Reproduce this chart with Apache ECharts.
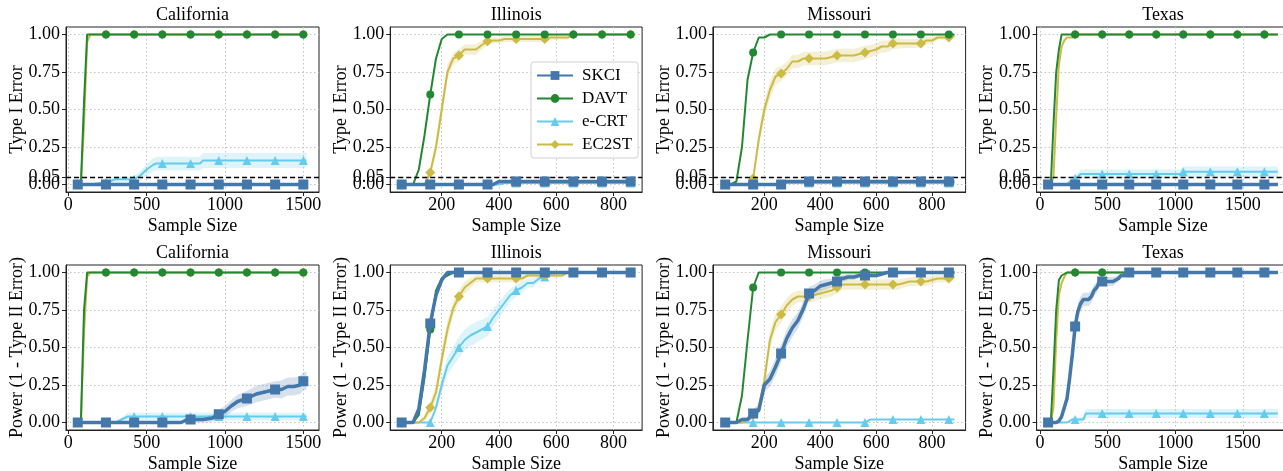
<!DOCTYPE html>
<html>
<head>
<meta charset="utf-8">
<script src="https://cdn.jsdelivr.net/npm/echarts@6/dist/echarts.min.js"></script>
<style>html,body{margin:0;padding:0;background:#fff}#chart{width:1283px;height:471px}</style>
</head>
<body>
<div id="chart"></div>
<script>
// methods and states
var methods = ['SKCI', 'DAVT', 'e-CRT', 'EC2ST'];
var states = ['California', 'Illinois', 'Missouri', 'Texas'];
var alphaLevel = 0.05;

// tick labels
var xTicksWide = [0, 500, 1000, 1500];
var xTicksNarrow = [200, 400, 600, 800];
var yTicksTypeI = [0, 0.05, 0.25, 0.5, 0.75, 1];
var yTicksPower = [0, 0.25, 0.5, 0.75, 1];

// ---- California ----
var caX = [60,80,100,120,140,240,260,300,320,360,380,420,460,500,540,560,600,720,760,780,840,860,920,960,1000,1040,1080,1140,1200,1240,1280,1320,1360,1400,1440,1480,1500,1520];
var caMarks = [60,240,420,600,780,960,1140,1320,1500];
var caT1Skci = [0,0,0,0,0,0,0,0,0,0,0,0,0,0,0,0,0,0,0,0,0,0,0,0,0,0,0,0,0,0,0,0,0,0,0,0,0,0];
var caT1Davt = [0,0,0.55,1,1,1,1,1,1,1,1,1,1,1,1,1,1,1,1,1,1,1,1,1,1,1,1,1,1,1,1,1,1,1,1,1,1,1];
var caT1Crt = [0,0,0,0,0,0.015,0.02,0.035,0.035,0.035,0.035,0.035,0.06,0.1,0.13,0.14,0.14,0.14,0.14,0.14,0.14,0.16,0.16,0.16,0.16,0.16,0.16,0.16,0.16,0.16,0.16,0.16,0.16,0.16,0.16,0.16,0.16,0.16];
var caT1CrtBand = [0,0,0,0,0,0.01,0.015,0.02,0.02,0.02,0.02,0.02,0.03,0.04,0.045,0.045,0.045,0.045,0.045,0.045,0.045,0.05,0.05,0.05,0.05,0.05,0.05,0.05,0.05,0.05,0.05,0.05,0.05,0.05,0.05,0.05,0.05,0.05];
var caT1Ec2 = [0,0,0.4,0.95,1,1,1,1,1,1,1,1,1,1,1,1,1,1,1,1,1,1,1,1,1,1,1,1,1,1,1,1,1,1,1,1,1,1];
var caPSkci = [0,0,0,0,0,0,0,0,0,0,0,0,0,0,0,0,0,0,0.02,0.02,0.02,0.02,0.03,0.055,0.075,0.11,0.14,0.16,0.19,0.2,0.21,0.22,0.22,0.24,0.24,0.25,0.275,0.28];
var caPSkciBand = [0,0,0,0,0,0,0,0,0,0,0,0,0,0,0,0,0,0,0.02,0.02,0.02,0.02,0.025,0.03,0.035,0.04,0.045,0.05,0.055,0.055,0.055,0.055,0.06,0.06,0.06,0.06,0.06,0.06];
var caPDavt = [0,0,0.75,1,1,1,1,1,1,1,1,1,1,1,1,1,1,1,1,1,1,1,1,1,1,1,1,1,1,1,1,1,1,1,1,1,1,1];
var caPCrt = [0,0,0,0,0,0,0,0,0.01,0.03,0.04,0.04,0.04,0.04,0.04,0.04,0.04,0.04,0.04,0.04,0.04,0.04,0.04,0.04,0.04,0.04,0.04,0.04,0.04,0.04,0.04,0.04,0.04,0.04,0.04,0.04,0.04,0.04];
var caPCrtBand = [0,0,0,0,0,0,0,0,0.01,0.02,0.025,0.025,0.025,0.025,0.025,0.025,0.025,0.025,0.025,0.025,0.025,0.025,0.025,0.025,0.025,0.025,0.025,0.025,0.025,0.025,0.025,0.025,0.025,0.025,0.025,0.025,0.025,0.025];
var caPEc2 = [0,0,0.6,0.97,1,1,1,1,1,1,1,1,1,1,1,1,1,1,1,1,1,1,1,1,1,1,1,1,1,1,1,1,1,1,1,1,1,1];

// ---- Illinois ----
var ilX = [60,80,100,120,140,160,180,200,220,240,260,280,300,320,340,360,380,400,420,440,460,480,500,520,540,560,580,600,620,640,660,760,860];
var ilMarks = [60,160,260,360,460,560,660,760,860];
var ilT1Skci = [0,0,0,0,0,0,0,0,0,0,0,0,0,0,0,0,0,0.02,0.02,0.02,0.02,0.02,0.02,0.02,0.02,0.02,0.02,0.02,0.02,0.02,0.02,0.02,0.02];
var ilT1Davt = [0,0,0,0.1,0.33,0.6,0.84,0.97,1,1,1,1,1,1,1,1,1,1,1,1,1,1,1,1,1,1,1,1,1,1,1,1,1];
var ilT1Crt = [0,0,0,0,0,0,0,0,0,0,0,0,0,0,0,0,0,0,0.01,0.01,0.01,0.01,0.01,0.01,0.01,0.01,0.01,0.01,0.01,0.01,0.01,0.01,0.01];
var ilT1Ec2 = [0,0,0,0,0,0.08,0.25,0.5,0.75,0.84,0.86,0.9,0.9,0.9,0.93,0.955,0.96,0.96,0.97,0.97,0.97,0.97,0.97,0.97,0.97,0.97,0.98,0.98,0.98,0.98,1,1,1];
var ilT1Ec2Band = [0,0,0,0,0,0.03,0.05,0.06,0.05,0.04,0.04,0.035,0.035,0.035,0.03,0.025,0.02,0.02,0.02,0.02,0.02,0.02,0.02,0.02,0.02,0.02,0.015,0.015,0.015,0.015,0,0,0];
var ilPSkci = [0,0,0,0.09,0.35,0.66,0.85,0.95,1,1,1,1,1,1,1,1,1,1,1,1,1,1,1,1,1,1,1,1,1,1,1,1,1];
var ilPSkciBand = [0,0,0,0.03,0.05,0.05,0.04,0.03,0,0,0,0,0,0,0,0,0,0,0,0,0,0,0,0,0,0,0,0,0,0,0,0,0];
var ilPDavt = [0,0,0,0.05,0.3,0.62,0.88,0.96,0.98,1,1,1,1,1,1,1,1,1,1,1,1,1,1,1,1,1,1,1,1,1,1,1,1];
var ilPCrt = [0,0,0,0,0,0,0.1,0.25,0.38,0.44,0.5,0.55,0.58,0.6,0.62,0.64,0.7,0.75,0.8,0.85,0.88,0.9,0.93,0.93,0.96,0.97,0.99,1,1,1,1,1,1];
var ilPCrtBand = [0,0,0,0,0,0,0.03,0.05,0.06,0.065,0.07,0.07,0.07,0.07,0.065,0.065,0.06,0.055,0.05,0.045,0.04,0.035,0.03,0.03,0.02,0.02,0.01,0,0,0,0,0,0];
var ilPEc2 = [0,0,0,0,0.03,0.1,0.2,0.42,0.62,0.76,0.84,0.9,0.93,0.96,0.96,0.96,0.96,0.96,0.96,0.96,0.96,0.96,0.98,0.98,0.98,0.98,0.98,0.98,0.98,1,1,1,1];
var ilPEc2Band = [0,0,0,0,0.02,0.04,0.05,0.06,0.06,0.05,0.045,0.04,0.035,0.025,0.025,0.025,0.025,0.025,0.025,0.025,0.025,0.025,0.015,0.015,0.015,0.015,0.015,0.015,0.015,0,0,0,0];

// ---- Missouri ----
var moX = [60,80,100,120,140,160,180,200,220,240,260,280,300,320,340,360,380,400,420,440,460,480,500,520,540,560,580,600,620,640,660,680,700,720,740,760,780,800,820,840,860,880];
var moMarks = [60,160,260,360,460,560,660,760,860];
var moT1Skci = [0,0,0,0,0,0,0,0,0,0,0,0.02,0.02,0.02,0.02,0.02,0.02,0.02,0.02,0.02,0.02,0.02,0.02,0.02,0.02,0.02,0.02,0.02,0.02,0.02,0.02,0.02,0.02,0.02,0.02,0.02,0.02,0.02,0.02,0.02,0.02,0.02];
var moT1Davt = [0,0,0.02,0.25,0.7,0.88,0.98,0.98,1,1,1,1,1,1,1,1,1,1,1,1,1,1,1,1,1,1,1,1,1,1,1,1,1,1,1,1,1,1,1,1,1,1];
var moT1Crt = [0,0,0,0,0,0,0,0,0,0,0,0.01,0.01,0.01,0.01,0.01,0.01,0.01,0.01,0.01,0.01,0.01,0.01,0.01,0.01,0.01,0.01,0.01,0.01,0.01,0.01,0.01,0.01,0.01,0.01,0.01,0.01,0.01,0.01,0.01,0.01,0.01];
var moT1Ec2 = [0,0,0,0,0,0.04,0.3,0.5,0.63,0.72,0.74,0.77,0.82,0.82,0.84,0.84,0.84,0.84,0.84,0.85,0.86,0.86,0.86,0.86,0.87,0.88,0.89,0.9,0.92,0.92,0.94,0.94,0.94,0.94,0.94,0.94,0.96,0.96,0.98,0.98,0.98,0.99];
var moT1Ec2Band = [0,0,0,0,0,0.02,0.05,0.06,0.06,0.055,0.05,0.045,0.045,0.045,0.045,0.045,0.045,0.045,0.045,0.045,0.045,0.045,0.045,0.045,0.045,0.045,0.04,0.04,0.04,0.04,0.035,0.035,0.03,0.03,0.03,0.03,0.025,0.025,0.015,0.015,0.015,0.01];
var moPSkci = [0,0,0,0.02,0.02,0.06,0.08,0.25,0.29,0.37,0.46,0.56,0.63,0.68,0.76,0.86,0.88,0.91,0.92,0.93,0.94,0.96,0.97,0.97,0.98,0.98,0.98,0.98,0.99,1,1,1,1,1,1,1,1,1,1,1,1,1];
var moPSkciBand = [0,0,0,0.015,0.015,0.03,0.03,0.05,0.05,0.06,0.06,0.06,0.06,0.055,0.05,0.045,0.04,0.035,0.035,0.03,0.03,0.025,0.02,0.02,0.015,0.015,0.015,0.015,0.01,0,0,0,0,0,0,0,0,0,0,0,0,0];
var moPDavt = [0,0,0,0.18,0.55,0.9,1,1,1,1,1,1,1,1,1,1,1,1,1,1,1,1,1,1,1,1,1,1,1,1,1,1,1,1,1,1,1,1,1,1,1,1];
var moPCrt = [0,0,0,0,0,0,0,0,0,0,0,0,0,0,0,0,0,0,0,0,0,0,0,0,0,0,0.02,0.02,0.02,0.02,0.02,0.02,0.02,0.02,0.02,0.02,0.02,0.02,0.02,0.02,0.02,0.02];
var moPEc2 = [0,0,0,0,0.02,0.05,0.1,0.28,0.55,0.67,0.72,0.78,0.82,0.84,0.84,0.84,0.85,0.86,0.87,0.88,0.9,0.92,0.92,0.92,0.92,0.92,0.92,0.92,0.92,0.92,0.92,0.92,0.93,0.94,0.94,0.94,0.94,0.95,0.96,0.96,0.96,0.97];
var moPEc2Band = [0,0,0,0,0.02,0.03,0.04,0.05,0.06,0.055,0.055,0.05,0.045,0.04,0.04,0.04,0.04,0.04,0.04,0.04,0.04,0.035,0.035,0.035,0.035,0.035,0.035,0.035,0.035,0.035,0.035,0.035,0.03,0.03,0.03,0.03,0.03,0.03,0.025,0.025,0.025,0.02];

// ---- Texas ----
var txX = [60,80,100,120,140,160,180,200,220,240,260,280,300,320,340,360,380,400,420,440,460,480,500,520,540,560,580,600,620,640,660,860,1040,1060,1260,1460,1660,1760];
var txMarks = [60,260,460,660,860,1060,1260,1460,1660];
var txT1Skci = [0,0,0,0,0,0,0,0,0,0,0,0,0,0,0,0,0,0,0,0,0,0,0,0,0,0,0,0,0,0,0,0,0,0,0,0,0,0];
var txT1Davt = [0,0,0.4,0.75,0.9,1,1,1,1,1,1,1,1,1,1,1,1,1,1,1,1,1,1,1,1,1,1,1,1,1,1,1,1,1,1,1,1,1];
var txT1Crt = [0,0,0,0,0,0,0,0,0.02,0.03,0.04,0.05,0.07,0.07,0.07,0.07,0.07,0.07,0.07,0.07,0.07,0.07,0.07,0.07,0.07,0.07,0.07,0.07,0.07,0.07,0.07,0.07,0.07,0.085,0.085,0.085,0.085,0.085];
var txT1CrtBand = [0,0,0,0,0,0,0,0,0.015,0.02,0.025,0.025,0.03,0.03,0.03,0.03,0.03,0.03,0.03,0.03,0.03,0.03,0.03,0.03,0.03,0.03,0.03,0.03,0.03,0.03,0.03,0.03,0.03,0.035,0.035,0.035,0.035,0.035];
var txT1Ec2 = [0,0,0.05,0.45,0.8,0.92,0.96,0.98,0.98,0.98,1,1,1,1,1,1,1,1,1,1,1,1,1,1,1,1,1,1,1,1,1,1,1,1,1,1,1,1];
var txPSkci = [0,0,0,0,0.01,0.04,0.1,0.16,0.3,0.46,0.64,0.74,0.79,0.82,0.82,0.82,0.84,0.88,0.9,0.94,0.94,0.94,0.94,0.94,0.94,0.95,0.96,0.98,0.98,1,1,1,1,1,1,1,1,1];
var txPSkciBand = [0,0,0,0,0.01,0.02,0.03,0.04,0.05,0.06,0.06,0.055,0.05,0.045,0.045,0.045,0.04,0.04,0.035,0.03,0.03,0.03,0.03,0.03,0.03,0.025,0.02,0.015,0.015,0,0,0,0,0,0,0,0,0];
var txPDavt = [0,0,0.35,0.75,0.95,0.98,0.99,1,1,1,1,1,1,1,1,1,1,1,1,1,1,1,1,1,1,1,1,1,1,1,1,1,1,1,1,1,1,1];
var txPCrt = [0,0,0,0,0,0,0,0,0.01,0.02,0.02,0.02,0.02,0.02,0.06,0.06,0.06,0.06,0.06,0.06,0.06,0.06,0.06,0.06,0.06,0.06,0.06,0.06,0.06,0.06,0.06,0.06,0.06,0.06,0.06,0.06,0.06,0.06];
var txPCrtBand = [0,0,0,0,0,0,0,0,0.01,0.015,0.015,0.015,0.015,0.02,0.03,0.03,0.03,0.03,0.03,0.03,0.03,0.03,0.03,0.03,0.03,0.03,0.03,0.03,0.03,0.03,0.03,0.03,0.03,0.03,0.03,0.03,0.03,0.03];
var txPEc2 = [0,0,0.1,0.55,0.85,0.93,0.97,1,1,1,1,1,1,1,1,1,1,1,1,1,1,1,1,1,1,1,1,1,1,1,1,1,1,1,1,1,1,1];

var panels = [
    {state: 0, row: 0, x: caX, marks: caMarks, ys: [caT1Skci, caT1Davt, caT1Crt, caT1Ec2], bands: [null, null, caT1CrtBand, null]},
    {state: 1, row: 0, x: ilX, marks: ilMarks, ys: [ilT1Skci, ilT1Davt, ilT1Crt, ilT1Ec2], bands: [null, null, null, ilT1Ec2Band]},
    {state: 2, row: 0, x: moX, marks: moMarks, ys: [moT1Skci, moT1Davt, moT1Crt, moT1Ec2], bands: [null, null, null, moT1Ec2Band]},
    {state: 3, row: 0, x: txX, marks: txMarks, ys: [txT1Skci, txT1Davt, txT1Crt, txT1Ec2], bands: [null, null, txT1CrtBand, null]},
    {state: 0, row: 1, x: caX, marks: caMarks, ys: [caPSkci, caPDavt, caPCrt, caPEc2], bands: [caPSkciBand, null, caPCrtBand, null]},
    {state: 1, row: 1, x: ilX, marks: ilMarks, ys: [ilPSkci, ilPDavt, ilPCrt, ilPEc2], bands: [ilPSkciBand, null, ilPCrtBand, ilPEc2Band]},
    {state: 2, row: 1, x: moX, marks: moMarks, ys: [moPSkci, moPDavt, moPCrt, moPEc2], bands: [moPSkciBand, null, null, moPEc2Band]},
    {state: 3, row: 1, x: txX, marks: txMarks, ys: [txPSkci, txPDavt, txPCrt, txPEc2], bands: [txPSkciBand, null, txPCrtBand, null]}
];

// layout (pixels) and look
var cols = [
    {left: 66, width: 253, min: -15, max: 1600, ticks: xTicksWide},
    {left: 390.2, width: 251.9, min: 20, max: 900, ticks: xTicksNarrow},
    {left: 712.9, width: 252.7, min: 16, max: 920, ticks: xTicksNarrow},
    {left: 1036.6, width: 252.8, min: -25, max: 1845, ticks: xTicksWide}
];
var rows = [
    {top: 27, height: 165, name: 'Type I Error', ticks: yTicksTypeI, titleY: 15},
    {top: 265, height: 165, name: 'Power (1 - Type II Error)', ticks: yTicksPower, titleY: 253.5}
];
var look = {
    'SKCI':  {color: '#4477AA', symbol: 'rect', size: 10, width: 3.5, z: 5},
    'DAVT':  {color: '#228833', symbol: 'circle', size: 8, width: 2, z: 4},
    'e-CRT': {color: '#66CCEE', symbol: 'triangle', size: 9, width: 2, z: 2},
    'EC2ST': {color: '#CCBB44', symbol: 'diamond', size: 10, width: 2, z: 3}
};
var serif = '"Liberation Serif", "Times New Roman", serif';

function rgba(hex, a) {
    var n = parseInt(hex.slice(1), 16);
    return 'rgba(' + (n >> 16) + ',' + ((n >> 8) & 255) + ',' + (n & 255) + ',' + a + ')';
}

function bandSeries(gi, xs, ys, hw, color) {
    var pts = xs.map(function (x, i) { return [x, ys[i] - hw[i], ys[i] + hw[i]]; });
    return {
        type: 'custom', xAxisIndex: gi, yAxisIndex: gi, silent: true, z: 1,
        data: pts, encode: {x: 0, y: [1, 2]}, animation: false,
        renderItem: function (params, api) {
            if (params.dataIndex !== 0) return null;
            var up = [], lo = [];
            pts.forEach(function (p) {
                up.push(api.coord([p[0], p[2]]));
                lo.push(api.coord([p[0], p[1]]));
            });
            return {type: 'polygon', shape: {points: up.concat(lo.reverse())}, style: {fill: rgba(color, 0.22)}};
        }
    };
}

function lineSeries(gi, name, xs, ys, marks) {
    var s = look[name];
    return {
        type: 'line', name: name, xAxisIndex: gi, yAxisIndex: gi, z: s.z,
        symbol: s.symbol, symbolSize: s.size, silent: true, animation: false,
        data: xs.map(function (x, i) {
            return {value: [x, ys[i]], symbol: marks.indexOf(x) >= 0 ? s.symbol : 'none'};
        }),
        lineStyle: {color: s.color, width: s.width},
        itemStyle: {color: s.color, borderWidth: 0}
    };
}

function fmt2(v) { return Number(v).toFixed(2); }
var labelFont = {fontFamily: serif, fontSize: 18, color: '#000'};
var gridLine = {show: true, lineStyle: {color: '#bdbdbd', type: [1.5, 2.5], width: 0.9}};
var grids = [], xAxes = [], yAxes = [], extraY = [], series = [], graphics = [];
panels.forEach(function (p, gi) {
    var c = cols[p.state], r = rows[p.row];
    grids.push({left: c.left, width: c.width, top: r.top, height: r.height, show: true,
        borderColor: '#222', borderWidth: 1, containLabel: false, outerBoundsMode: 'none'});
    xAxes.push({
        type: 'value', gridIndex: gi, min: c.min, max: c.max,
        name: 'Sample Size', nameLocation: 'middle', nameGap: 25, nameMoveOverlap: false,
        nameTextStyle: labelFont,
        axisLine: {show: true, onZero: false, lineStyle: {color: '#222', width: 1}},
        axisTick: {show: true, length: 4, customValues: c.ticks, lineStyle: {color: '#222'}},
        axisLabel: Object.assign({customValues: c.ticks, margin: 4, hideOverlap: false,
            formatter: function (v) { return String(v); }}, labelFont),
        splitLine: gridLine
    });
    // tick labels closer than a label height (0.00 / 0.05) go on a second, label-only axis
    var mainLabels = r.ticks.filter(function (v) { return v !== alphaLevel; });
    yAxes.push({
        type: 'value', gridIndex: gi, min: -0.05, max: 1.05,
        name: r.name, nameLocation: 'middle', nameRotate: 90, nameGap: 40, nameMoveOverlap: false,
        nameTextStyle: labelFont,
        axisLine: {show: true, onZero: false, lineStyle: {color: '#222', width: 1}},
        axisTick: {show: true, length: 4, customValues: r.ticks, lineStyle: {color: '#222'}},
        axisLabel: Object.assign({customValues: mainLabels, margin: 6, hideOverlap: false,
            formatter: fmt2}, labelFont),
        splitLine: gridLine
    });
    if (mainLabels.length < r.ticks.length) {
        extraY.push({
            type: 'value', gridIndex: gi, min: -0.05, max: 1.05, position: 'left',
            axisLine: {show: false, onZero: false}, axisTick: {show: false}, splitLine: {show: false},
            axisLabel: Object.assign({customValues: [alphaLevel], margin: 6, formatter: fmt2}, labelFont)
        });
    }
    methods.forEach(function (m, k) {
        if (p.bands[k]) series.push(bandSeries(gi, p.x, p.ys[k], p.bands[k], look[m].color));
    });
    methods.forEach(function (m, k) {
        var s = lineSeries(gi, m, p.x, p.ys[k], p.marks);
        if (p.row === 0 && m === 'SKCI') {
            s.markLine = {silent: true, symbol: ['none', 'none'], label: {show: false}, animation: false,
                lineStyle: {color: '#000', type: [5, 3], width: 1.3}, data: [{yAxis: alphaLevel}]};
        }
        series.push(s);
    });
    graphics.push({type: 'text', x: c.left + c.width / 2, y: r.titleY,
        style: {text: states[p.state], fill: '#000', fontFamily: serif, fontSize: 18,
            align: 'center', verticalAlign: 'middle'}});
});
// Texas frame runs off the canvas, so title centre follows the visible part
graphics[3].x = 1163; graphics[7].x = 1163;

var chart = echarts.init(document.getElementById('chart'), null, {renderer: 'canvas'});
chart.setOption({
    animation: false,
    backgroundColor: '#fff',
    grid: grids, xAxis: xAxes, yAxis: yAxes.concat(extraY), series: series,
    graphic: graphics,
    legend: {
        data: methods, orient: 'vertical', left: 531, top: 62, selectedMode: false,
        itemWidth: 36, itemHeight: 11, itemGap: 6,
        padding: [5, 6, 5, 5],
        borderColor: '#d0d0d0', borderWidth: 1, borderRadius: 3,
        backgroundColor: 'rgba(255,255,255,0.85)',
        textStyle: {fontFamily: serif, fontSize: 17, color: '#000', padding: [0, 0, 0, 4]}
    }
});
</script>
</body>
</html>
